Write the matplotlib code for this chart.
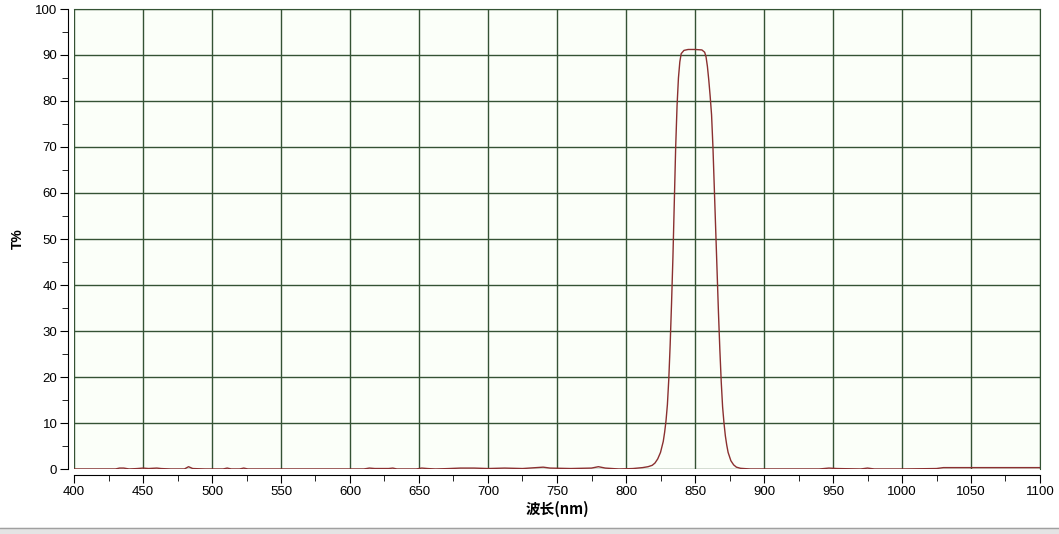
import matplotlib.pyplot as plt
import numpy as np
from matplotlib.ticker import MultipleLocator

plt.rcParams['font.family'] = ['Liberation Sans', 'Noto Sans CJK SC', 'DejaVu Sans']

# wavelength (nm) and transmittance (%)
wl = [400, 430, 433, 436, 440, 446, 450, 454, 460, 463, 470, 480, 483, 486, 495,
      508, 511, 514, 520, 523, 526, 560, 600, 610, 614, 618, 628, 631, 634, 648,
      652, 656, 662, 672, 680, 690, 700, 712, 725, 735, 740, 745, 760, 775, 780,
      785, 795, 805, 812, 816, 819, 821, 823, 825, 827, 828, 829, 830, 831, 832,
      833, 834, 835, 836, 837, 838, 839, 840, 842, 845, 850, 855, 857, 858, 859,
      860, 861, 862, 863, 864, 865, 866, 867, 868, 869, 870, 871, 872, 873, 874,
      876, 878, 880, 883, 890, 900, 940, 947, 953, 970, 975, 980, 1000, 1025,
      1030, 1060, 1090, 1100]
tr = [0.0, 0.0, 0.2, 0.2, 0.0, 0.1, 0.2, 0.1, 0.2, 0.1, 0.0, 0.0, 0.5, 0.1, 0.0,
      0.0, 0.2, 0.0, 0.0, 0.2, 0.0, 0.0, 0.0, 0.0, 0.2, 0.1, 0.1, 0.2, 0.0, 0.0,
      0.2, 0.1, 0.0, 0.1, 0.2, 0.2, 0.1, 0.2, 0.1, 0.3, 0.4, 0.2, 0.1, 0.2, 0.5,
      0.2, 0.0, 0.1, 0.3, 0.5, 0.8, 1.3, 2.2, 3.6, 6.0, 8.0, 10.5, 14.0, 19.5, 27.0,
      36.0, 46.0, 58.0, 70.0, 79.0, 85.0, 88.5, 90.3, 91.0, 91.2, 91.2, 91.1, 90.6, 89.6, 87.5,
      84.5, 81.0, 77.0, 70.0, 61.0, 52.0, 43.0, 34.0, 26.0, 19.0, 13.5, 10.0, 7.2, 5.2, 3.6,
      1.8, 0.9, 0.4, 0.15, 0.0, 0.0, 0.0, 0.2, 0.1, 0.0, 0.2, 0.0, 0.0, 0.1,
      0.3, 0.3, 0.3, 0.3]

fig = plt.figure(figsize=(10.59, 5.34), dpi=100)
ax = fig.add_axes([74 / 1059, 65 / 534, 966 / 1059, 460 / 534])
ax.set_facecolor('#fbfff9')

ax.plot(wl, tr, color='#8a3030', lw=1.0, zorder=3)

ax.set_xlim(400, 1100)
ax.set_ylim(0, 100)
ax.xaxis.set_major_locator(MultipleLocator(50))
ax.xaxis.set_minor_locator(MultipleLocator(25))
ax.yaxis.set_major_locator(MultipleLocator(10))
ax.yaxis.set_minor_locator(MultipleLocator(5))
ax.grid(True, which='major', color='#345234', lw=1.0)

for s in ['top', 'right']:
    ax.spines[s].set_color('#345234')
for s in ['left', 'bottom']:
    ax.spines[s].set_position(('outward', 4))
    ax.spines[s].set_color('black')
ax.tick_params(which='major', length=6, labelsize=9.5, direction='out', pad=2)
ax.tick_params(which='minor', length=4, direction='out')

ax.set_xlabel('波长(nm)', fontsize=10.5, fontweight='bold', labelpad=2,
              family=['Noto Sans CJK SC', 'DejaVu Sans'])
ax.set_ylabel('T%', fontsize=10, fontweight='bold')
ax.yaxis.set_label_coords(-0.051, 0.5)

# window frame strip at the bottom of the screenshot
fig.patches.append(plt.Rectangle((0, 0), 1, 6 / 534, transform=fig.transFigure,
                                 color='#e4e4e4', zorder=0))
fig.lines.append(plt.Line2D([0, 1], [6 / 534, 6 / 534], transform=fig.transFigure,
                            color='#a0a0a0', lw=1))

fig.savefig('out.png', dpi=100)
